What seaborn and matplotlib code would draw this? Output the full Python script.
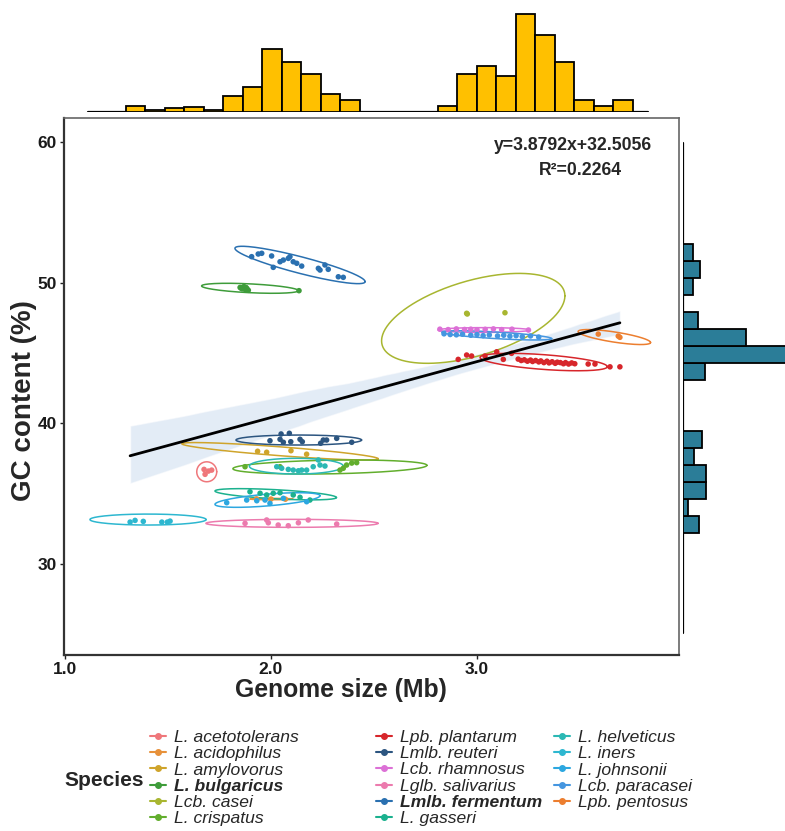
import numpy as np
import pandas as pd
import seaborn as sns
import matplotlib.pyplot as plt
from matplotlib.lines import Line2D

# ============================================================================
# DATA
# ============================================================================
species = [
    'L. acetotolerans', 'L. acidophilus', 'L. amylovorus', 'L. bulgaricus',
    'Lcb. casei', 'L. crispatus', 'Lpb. plantarum', 'Lmlb. reuteri',
    'Lcb. rhamnosus', 'Lglb. salivarius', 'Lmlb. fermentum', 'L. gasseri',
    'L. helveticus', 'L. iners', 'L. johnsonii', 'Lcb. paracasei', 'Lpb. pentosus'
]
bold_species = ['L. bulgaricus', 'Lmlb. fermentum']

colors = [
    '#EF777B', '#E7913A', '#CFA42B', '#3E9C3A',
    '#A8B630', '#62AE2D', '#D7262B', '#2C5580',
    '#DC70D6', '#EC7BAE', '#2A70B0', '#1BB18E',
    '#2BB8B4', '#2DB7D0', '#2CA7E0', '#4596E0', '#EC7E2F'
]

# genome size (Mb) / GC content (%) per species
size_pts = {
    'L. acetotolerans': [1.675, 1.680, 1.696, 1.712],
    'L. acidophilus': [1.93, 2.00, 2.07],
    'L. amylovorus': [1.935, 1.979, 2.097, 2.173],
    'L. bulgaricus': [1.85, 1.855, 1.86, 1.865, 1.87, 1.87, 1.875, 1.878,
                      1.88, 1.885, 1.89, 2.136],
    'Lcb. casei': [2.950, 2.953, 3.136],
    'L. crispatus': [1.874, 2.044, 2.335, 2.351, 2.367, 2.392, 2.416],
    'Lpb. plantarum': [2.909, 2.950, 2.974, 3.039, 3.096, 3.128, 3.168,
                       3.20, 3.215, 3.23, 3.245, 3.26, 3.27, 3.285, 3.30, 3.31,
                       3.325, 3.34, 3.35, 3.365, 3.38, 3.39, 3.405, 3.42, 3.43,
                       3.445, 3.46, 3.475, 3.54, 3.573, 3.646, 3.694],
    'Lmlb. reuteri': [1.995, 2.044, 2.049, 2.060, 2.089, 2.096, 2.141, 2.152,
                      2.241, 2.254, 2.270, 2.319, 2.392],
    'Lcb. rhamnosus': [2.82, 2.86, 2.90, 2.94, 2.97, 3.00, 3.04, 3.08, 3.12,
                       3.17, 3.25],
    'Lglb. salivarius': [1.874, 1.979, 1.987, 2.035, 2.084, 2.133, 2.181, 2.319],
    'Lmlb. fermentum': [1.906, 1.938, 1.955, 2.003, 2.011, 2.044, 2.060, 2.084,
                        2.092, 2.108, 2.125, 2.149, 2.230, 2.238, 2.262, 2.278,
                        2.327, 2.351],
    'L. gasseri': [1.898, 1.947, 1.979, 2.011, 2.044, 2.108, 2.141, 2.189],
    'L. helveticus': [2.028, 2.052, 2.084, 2.108, 2.133, 2.149, 2.173, 2.205,
                      2.230, 2.238, 2.262],
    'L. iners': [1.316, 1.340, 1.380, 1.470, 1.497, 1.510],
    'L. johnsonii': [1.785, 1.882, 1.931, 1.971, 1.995, 2.060, 2.173],
    'Lcb. paracasei': [2.84, 2.87, 2.90, 2.93, 2.97, 3.00, 3.03, 3.06, 3.10,
                       3.13, 3.16, 3.19, 3.22, 3.26, 3.30],
    'Lpb. pentosus': [3.589, 3.686, 3.694],
}
gc_pts = {
    'L. acetotolerans': [36.70, 36.35, 36.58, 36.65],
    'L. acidophilus': [34.60, 34.59, 34.58],
    'L. amylovorus': [37.99, 37.92, 38.03, 37.78],
    'L. bulgaricus': [49.65, 49.60, 49.55, 49.68, 49.70, 49.58, 49.50, 49.64,
                      49.62, 49.52, 49.45, 49.42],
    'Lcb. casei': [47.81, 47.76, 47.85],
    'L. crispatus': [36.89, 36.89, 36.65, 36.78, 37.01, 37.15, 37.18],
    'Lpb. plantarum': [44.53, 44.84, 44.77, 44.77, 45.07, 44.53, 44.96,
                       44.55, 44.45, 44.50, 44.40, 44.48, 44.38, 44.45, 44.35,
                       44.42, 44.30, 44.40, 44.28, 44.36, 44.25, 44.33, 44.30,
                       44.22, 44.30, 44.20, 44.28, 44.22, 44.20, 44.20, 44.00,
                       44.00],
    'Lmlb. reuteri': [38.74, 38.84, 39.22, 38.63, 39.27, 38.67, 38.84, 38.67,
                      38.56, 38.79, 38.79, 38.91, 38.63],
    'Lcb. rhamnosus': [46.68, 46.65, 46.70, 46.66, 46.68, 46.64, 46.67, 46.70,
                       46.65, 46.68, 46.62],
    'Lglb. salivarius': [32.86, 33.10, 32.90, 32.74, 32.69, 32.90, 33.10, 32.81],
    'Lmlb. fermentum': [51.84, 52.03, 52.08, 51.89, 51.08, 51.48, 51.60, 51.72,
                        51.84, 51.48, 51.37, 51.17, 51.01, 50.89, 51.25, 50.94,
                        50.41, 50.37],
    'L. gasseri': [35.11, 35.00, 34.88, 35.00, 35.04, 34.88, 34.71, 34.52],
    'L. helveticus': [36.89, 36.78, 36.70, 36.65, 36.60, 36.65, 36.65, 36.89,
                      37.37, 37.01, 36.94],
    'L. iners': [32.95, 33.07, 33.00, 32.95, 32.95, 33.02],
    'L. johnsonii': [34.33, 34.52, 34.47, 34.52, 34.28, 34.64, 34.40],
    'Lcb. paracasei': [46.35, 46.30, 46.28, 46.32, 46.25, 46.30, 46.22, 46.27,
                       46.20, 46.25, 46.18, 46.22, 46.15, 46.20, 46.12],
    'Lpb. pentosus': [46.33, 46.19, 46.10],
}

# confidence ellipses: centre x, centre y, x half-extent, y half-extent, correlation
ell_cx = [1.688, 2.002, 2.044, 1.898, 2.982, 2.286, 3.324, 2.135, 3.034,
          2.102, 2.141, 2.023, 2.123, 1.403, 1.983, 3.096, 3.667]
ell_cy = [36.53, 34.59, 37.99, 49.59, 47.45, 36.87, 44.34, 38.79, 46.62,
          32.86, 51.25, 34.93, 36.93, 33.13, 34.52, 46.24, 46.12]
ell_sx = [0.0485, 0.104, 0.477, 0.235, 0.445, 0.471, 0.309, 0.305, 0.223,
          0.418, 0.316, 0.295, 0.228, 0.282, 0.255, 0.267, 0.176]
ell_sy = [0.71, 0.05, 0.62, 0.356, 3.2, 0.5, 0.62, 0.356, 0.17,
          0.285, 1.33, 0.4, 0.56, 0.39, 0.52, 0.33, 0.534]
ell_rho = [0.0, 0.0, -0.86, -0.47, 0.5, 0.24, -0.53, 0.0, 0.0,
           0.0, -0.89, -0.58, 0.0, 0.0, 0.59, -0.7, -0.73]

# marginal histograms
top_edges = np.linspace(1.294, 3.756, 27)
top_counts = [6.3, 1.7, 4, 5, 2, 16.3, 25, 63, 50, 38, 18, 12, 0, 0, 0, 0,
              6.3, 38, 46, 36, 98, 77, 50, 12, 6.3, 12]
right_edges = np.linspace(32.17, 52.74, 18)
right_counts = [16, 5, 23, 23, 11, 19, 0, 0, 0, 22, 120, 63, 15, 0, 10, 17, 10]

eq_text = 'y=3.8792x+32.5056'
r2_text = 'R²=0.2264'

# ============================================================================
# BUILD DATAFRAMES
# ============================================================================
rows = []
for sp in species:
    for x, y in zip(size_pts[sp], gc_pts[sp]):
        rows.append({'Species': sp, 'size': x, 'gc': y})
df = pd.DataFrame(rows)
palette = dict(zip(species, colors))

df_top = pd.DataFrame({'mid': (top_edges[:-1] + top_edges[1:]) / 2,
                       'n': top_counts})
df_right = pd.DataFrame({'mid': (right_edges[:-1] + right_edges[1:]) / 2,
                         'n': right_counts})

# ============================================================================
# FIGURE
# ============================================================================
sns.set_style('ticks')
plt.rcParams['font.family'] = ['Liberation Sans', 'DejaVu Sans']

fig = plt.figure(figsize=(7.85, 8.31), dpi=100)
W, H = 785, 831
ax = fig.add_axes([64 / W, 1 - 655 / H, 615 / W, 537 / H])
ax_top = fig.add_axes([64 / W, 1 - 112 / H, 615 / W, 104 / H])
ax_right = fig.add_axes([683 / W, 1 - 655 / H, 102 / W, 537 / H])

xlim = (0.995, 3.981)
ylim = (23.49, 61.71)

# regression line + band
sns.regplot(data=df, x='size', y='gc', scatter=False, ax=ax, ci=95,
            color='black', line_kws=dict(lw=2.0))
for coll in ax.collections:
    coll.set_facecolor('#C9DAEE')
    coll.set_alpha(0.5)
    coll.set_zorder(1)
ax.lines[-1].set_zorder(6)

# ellipses
t = np.linspace(0, 2 * np.pi, 300)
for i, sp in enumerate(species):
    ex = ell_cx[i] + ell_sx[i] * np.cos(t)
    ey = ell_cy[i] + ell_sy[i] * (ell_rho[i] * np.cos(t)
                                  + np.sqrt(1 - ell_rho[i] ** 2) * np.sin(t))
    ax.plot(ex, ey, color=palette[sp], lw=1.1, zorder=3)

# points
sns.scatterplot(data=df, x='size', y='gc', hue='Species', hue_order=species,
                palette=palette, s=16, linewidth=0, legend=False, ax=ax,
                zorder=4)

ax.set_xlim(xlim)
ax.set_ylim(ylim)
ax.set_xticks([1, 2, 3])
ax.set_xticklabels(['1.0', '2.0', '3.0'])
ax.set_yticks([30, 40, 50, 60])
ax.tick_params(axis='both', direction='out', length=3, width=1,
               labelsize=12.5, pad=2, colors='#222222')
for lab in ax.get_xticklabels() + ax.get_yticklabels():
    lab.set_fontweight('bold')
    lab.set_color('#1a1a1a')
ax.set_xlabel('Genome size (Mb)', fontsize=17.8, fontweight='bold',
              va='center')
ax.set_ylabel('GC content (%)', fontsize=20, fontweight='bold',
              va='center')
ax.xaxis.set_label_coords((341 - 64) / 615, -(690 - 655) / 537)
ax.yaxis.set_label_coords((24 - 64) / 615, (655 - 401) / 537)
for side in ['left', 'bottom']:
    ax.spines[side].set_linewidth(1.6)
    ax.spines[side].set_color('#333333')
for side in ['top', 'right']:
    ax.spines[side].set_linewidth(1.2)
    ax.spines[side].set_color('#666666')

ax.text(0.828, 0.948, eq_text, transform=ax.transAxes, ha='center',
        va='center', fontsize=12.7, fontweight='bold')
ax.text(0.839, 0.903, r2_text, transform=ax.transAxes, ha='center',
        va='center', fontsize=12.7, fontweight='bold')

# top marginal histogram
sns.histplot(data=df_top, x='mid', weights='n', bins=top_edges.tolist(),
             color='#FFC000', edgecolor='black', linewidth=1.3,
             alpha=1, ax=ax_top)
ax_top.set_xlim(xlim)
ax_top.set_ylim(0, 104)
ax_top.axis('off')
ax_top.axhline(0, xmin=(1.11 - xlim[0]) / (xlim[1] - xlim[0]),
               xmax=(3.83 - xlim[0]) / (xlim[1] - xlim[0]),
               color='black', lw=1.6, zorder=0)

# right marginal histogram
sns.histplot(data=df_right, y='mid', weights='n', bins=right_edges.tolist(),
             color='#2B7D98', edgecolor='black', linewidth=1.3, alpha=1,
             ax=ax_right)
ax_right.set_ylim(ylim)
ax_right.set_xlim(0, 102)
ax_right.axis('off')
ax_right.axvline(0, ymin=(25.05 - ylim[0]) / (ylim[1] - ylim[0]),
                 ymax=(59.93 - ylim[0]) / (ylim[1] - ylim[0]),
                 color='black', lw=1.6, zorder=0)

# legend
handles = [Line2D([0], [0], color=palette[sp], marker='o', markersize=4,
                  lw=1.5) for sp in species]
columns = [(0, 6, 150), (6, 12, 376), (12, 17, 554)]
for start, stop, xpx in columns:
    leg = fig.legend(handles[start:stop], species[start:stop],
                     loc='upper left', bbox_to_anchor=(xpx / W, 1 - 730 / H),
                     frameon=False, borderpad=0, borderaxespad=0,
                     labelspacing=0.05, handlelength=0.9, handletextpad=0.45,
                     prop={'style': 'italic', 'size': 12.6})
    for txt in leg.get_texts():
        if txt.get_text() in bold_species:
            txt.set_fontweight('bold')
fig.text(64 / W, 1 - 781 / H, 'Species', fontsize=15, fontweight='bold',
         ha='left', va='center')

plt.savefig('out.png', dpi=100)
